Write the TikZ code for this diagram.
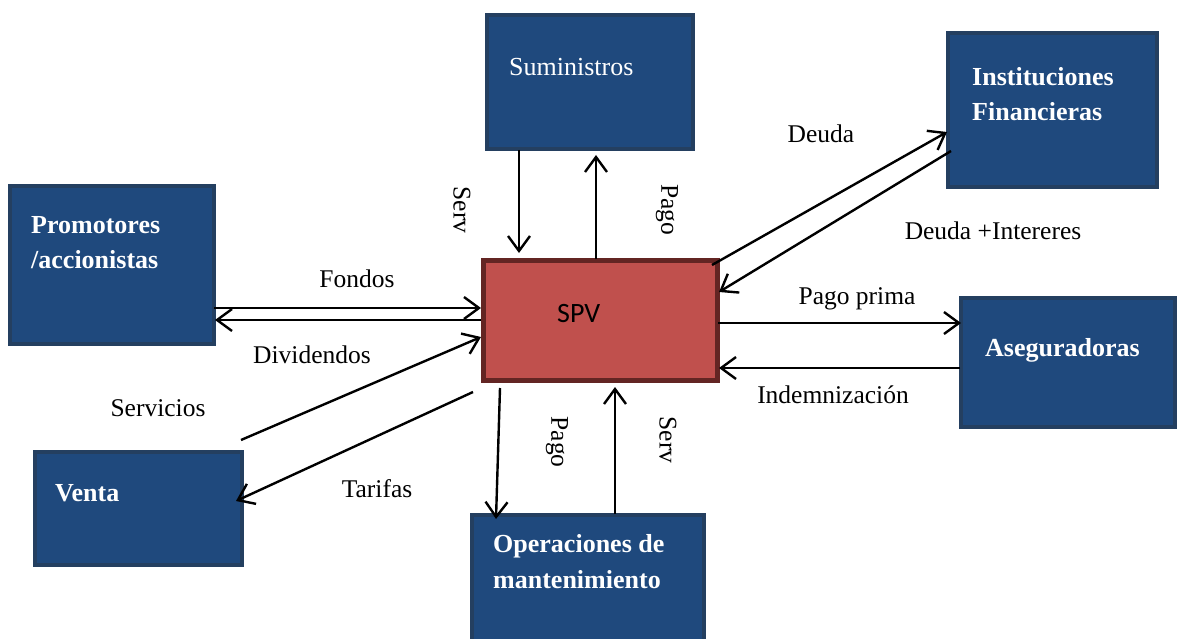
\documentclass[tikz,border=0pt]{standalone}
\usepackage{fontspec}
\setmainfont{Liberation Serif}
\newfontfamily\calib{Carlito}
\usetikzlibrary{arrows.meta}
\definecolor{boxfill}{HTML}{1F497D}
\definecolor{boxedge}{HTML}{243F60}
\definecolor{spvfill}{HTML}{C0504D}
\definecolor{spvedge}{HTML}{632523}
\tikzset{
  bluebox/.style={draw=boxedge, fill=boxfill, line width=4pt, inner sep=0pt},
  boxtext/.style={text=white, font=\fontsize{26}{30}\selectfont\bfseries, anchor=base west, inner sep=0pt},
  lbl/.style={font=\fontsize{25.5}{30}\selectfont, anchor=base, inner sep=0pt},
  conn/.style={line width=2.4pt, -{Straight Barb[length=15pt,width=22pt,line width=2.4pt]}},
}
\begin{document}
\begin{tikzpicture}[x=1pt,y=-1pt]
\useasboundingbox (0,0) rectangle (1177,639);
% boxes
\node[bluebox, minimum width=206, minimum height=134] (sum) at (590,82) {};
\node[bluebox, minimum width=209, minimum height=154] (inst) at (1052,110) {};
\node[bluebox, minimum width=204, minimum height=158] (prom) at (112,265) {};
\node[bluebox, minimum width=214, minimum height=129] (aseg) at (1068,362.5) {};
\node[bluebox, minimum width=207, minimum height=113] (venta) at (138.5,508.5) {};
\node[bluebox, minimum width=232, minimum height=130] (oper) at (588,580) {};
\node[draw=spvedge, fill=spvfill, line width=5pt, minimum width=234, minimum height=120, inner sep=0pt] (spv) at (600,320.5) {};
% box texts
\node[boxtext, font=\fontsize{26}{30}\selectfont] (tsum) at (509,76) {Suministros};
\node[boxtext] (tinst1) at (972,86) {Instituciones};
\node[boxtext] (tinst2) at (972,121) {Financieras};
\node[boxtext] (tprom1) at (31,233) {Promotores};
\node[boxtext] (tprom2) at (31,268) {/accionistas};
\node[boxtext] (taseg) at (985,356) {Aseguradoras};
\node[boxtext] (tventa) at (55,501) {Venta};
\node[boxtext] (toper1) at (493,552) {Operaciones de};
\node[boxtext] (toper2) at (493,588) {mantenimiento};
\node[text=black, font=\calib\fontsize{28}{30}\selectfont, anchor=base west, inner sep=0pt] (tspv) at (557,322) {SPV};
% connector end points
\coordinate (a1) at (519,150); \coordinate (a2) at (519,253);
\coordinate (b1) at (596,259); \coordinate (b2) at (596,155);
\coordinate (c1) at (214,308); \coordinate (c2) at (481,308);
\coordinate (d1) at (481,320); \coordinate (d2) at (215,320);
\coordinate (e1) at (241,440); \coordinate (e2) at (481,337);
\coordinate (f1) at (473,392); \coordinate (f2) at (236,501);
\coordinate (g1) at (500,388); \coordinate (g2) at (496,519);
\coordinate (h1) at (615,514); \coordinate (h2) at (615,387);
\coordinate (i1) at (712,265); \coordinate (i2) at (947,132);
\coordinate (j1) at (951,151); \coordinate (j2) at (719,292);
\coordinate (k1) at (718,323); \coordinate (k2) at (961,323);
\coordinate (l1) at (960,368); \coordinate (l2) at (719,368);
\draw[conn] (a1) -- (a2);
\draw[conn] (b1) -- (b2);
\draw[conn] (c1) -- (c2);
\draw[conn] (d1) -- (d2);
\draw[conn] (e1) -- (e2);
\draw[conn] (f1) -- (f2);
\draw[conn] (g1) -- (g2);
\draw[conn] (h1) -- (h2);
\draw[conn] (i1) -- (i2);
\draw[conn] (j1) -- (j2);
\draw[conn] (k1) -- (k2);
\draw[conn] (l1) -- (l2);
% labels
\node[lbl, anchor=center, rotate=-90] (ls1) at (462,210) {Serv};
\node[lbl, anchor=center, rotate=-90] (lp1) at (667,210) {Pago};
\node[lbl, anchor=center, rotate=-90] (lp2) at (557,442) {Pago};
\node[lbl, anchor=center, rotate=-90] (ls2) at (668,440) {Serv};
\node[lbl] (lfon) at (357,287) {Fondos};
\node[lbl] (ldiv) at (312,363) {Dividendos};
\node[lbl] (lser) at (158,416) {Servicios};
\node[lbl] (ltar) at (377,497) {Tarifas};
\node[lbl] (ldeu) at (821,143) {Deuda};
\node[lbl] (ldeui) at (993,239) {Deuda +Intereres};
\node[lbl] (lpag) at (857,304) {Pago prima};
\node[lbl] (lind) at (833,403) {Indemnización};
\end{tikzpicture}
\end{document}
